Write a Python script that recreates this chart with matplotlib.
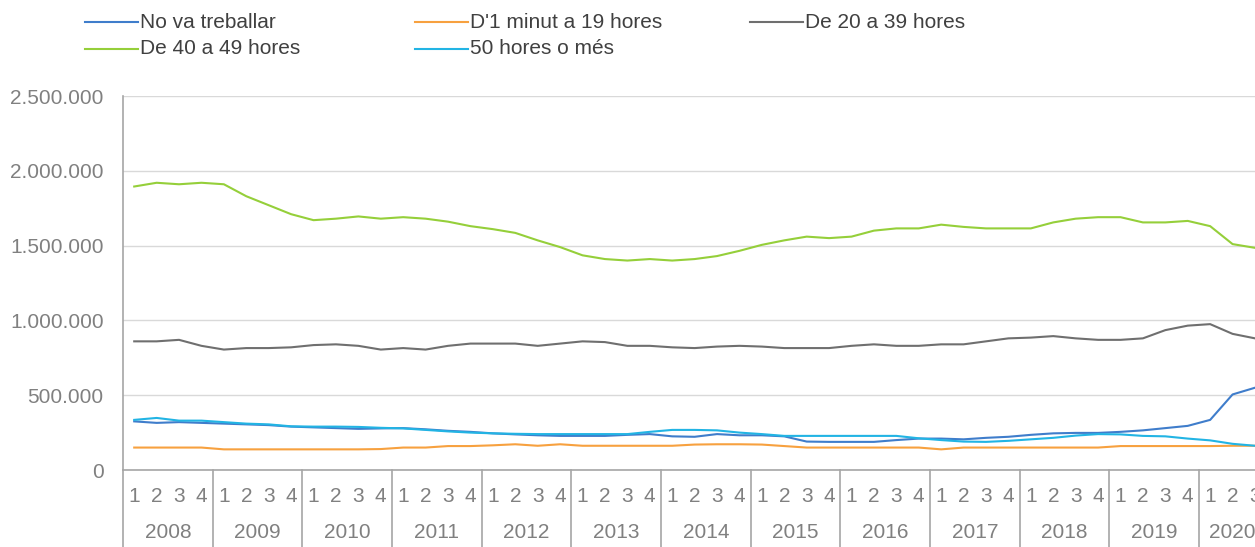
import numpy as np
import matplotlib.pyplot as plt
from matplotlib.ticker import FuncFormatter
import matplotlib.transforms as mtransforms

plt.rcParams['font.family'] = ['Liberation Sans', 'DejaVu Sans']

# dades trimestrals 2008T1 - 2020T3 (milers de persones)
years = ['2008', '2009', '2010', '2011', '2012', '2013', '2014',
         '2015', '2016', '2017', '2018', '2019', '2020']
quarters = ['1', '2', '3', '4']

no_treballar = [325, 315, 320, 315, 310, 305, 300, 290, 285, 280, 275, 278,
                280, 272, 262, 255, 245, 238, 232, 228, 228, 228, 235, 240,
                225, 222, 240, 232, 232, 225, 190, 188, 188, 188, 200, 210,
                210, 205, 215, 222, 235, 245, 248, 248, 255, 265, 280, 295,
                335, 505, 550]
de_1_a_19 = [150, 150, 150, 150, 138, 138, 138, 138, 138, 138, 138, 140,
             150, 150, 160, 160, 165, 172, 162, 172, 162, 162, 162, 162,
             162, 170, 172, 172, 170, 160, 150, 150, 150, 150, 150, 150,
             138, 150, 150, 150, 150, 150, 150, 150, 160, 160, 160, 160,
             160, 162, 162]
de_20_a_39 = [860, 860, 870, 830, 805, 815, 815, 820, 835, 840, 830, 805,
              815, 805, 830, 845, 845, 845, 830, 845, 860, 855, 830, 830,
              820, 815, 825, 830, 825, 815, 815, 815, 830, 840, 830, 830,
              840, 840, 860, 880, 885, 895, 880, 870, 870, 880, 935, 965,
              975, 910, 880]
de_40_a_49 = [1895, 1920, 1910, 1920, 1910, 1830, 1770, 1710, 1670, 1680, 1695, 1680,
              1690, 1680, 1660, 1630, 1610, 1585, 1535, 1490, 1435, 1410, 1400, 1410,
              1400, 1410, 1430, 1465, 1505, 1535, 1560, 1550, 1560, 1600, 1615, 1615,
              1640, 1625, 1615, 1615, 1615, 1655, 1680, 1690, 1690, 1655, 1655, 1665,
              1630, 1510, 1485]
mes_de_50 = [335, 348, 330, 330, 320, 310, 305, 292, 290, 290, 288, 282,
             278, 268, 258, 250, 245, 242, 240, 240, 240, 240, 240, 255,
             268, 268, 265, 250, 240, 228, 228, 228, 228, 228, 228, 212,
             200, 190, 188, 195, 205, 215, 230, 240, 238, 228, 225, 210,
             198, 175, 162]

series = [
    ("No va treballar", no_treballar, '#3F7DCB'),
    ("D'1 minut a 19 hores", de_1_a_19, '#F7A13F'),
    ("De 20 a 39 hores", de_20_a_39, '#6F6F6F'),
    ("De 40 a 49 hores", de_40_a_49, '#95CF3A'),
    ("50 hores o més", mes_de_50, '#22B4E4'),
]

fig = plt.figure(figsize=(12.55, 5.47), dpi=100)
ax = fig.add_axes([123 / 1255, 1 - 470 / 547, 1 - 123 / 1255, (470 - 96) / 547])

n = len(no_treballar)
x = np.arange(n)
for name, vals, color in series:
    ax.plot(x, np.array(vals) * 1000, color=color, lw=1.5, label=name)

ax.set_ylim(0, 2500000)
ax.set_xlim(-0.5, 50.0)
ax.set_yticks(np.arange(0, 2500001, 500000))
ax.yaxis.set_major_formatter(FuncFormatter(lambda v, p: f'{int(v):,}'.replace(',', '.')))
ax.grid(axis='y', color='#D9D9D9', lw=1)
ax.set_axisbelow(True)

for s in ['top', 'right']:
    ax.spines[s].set_visible(False)
for s in ['left', 'bottom']:
    ax.spines[s].set_color('#A6A6A6')
    ax.spines[s].set_linewidth(1.2)

ax.set_xticks(x)
ax.set_xticklabels([quarters[i % 4] for i in x])
ax.tick_params(axis='x', length=0, pad=12, labelsize=15, labelcolor='#808080')
ax.tick_params(axis='y', length=0, pad=14, labelsize=15, labelcolor='#808080')

# separadors d'anys i etiquetes d'any (l'últim any només té 3 trimestres)
trans = mtransforms.blended_transform_factory(ax.transData, ax.transAxes)
for k, yr in enumerate(years):
    start = 4 * k
    end = min(4 * k + 4, n)
    ax.plot([start - 0.5, start - 0.5], [0, -0.3], transform=trans,
            color='#A6A6A6', lw=1.2, clip_on=False)
    ax.text((start + end - 1) / 2, -0.168, yr, transform=trans, ha='center', va='center',
            fontsize=15, color='#808080', clip_on=False)

# llegenda (ordre per files)
leg_pos = [(85, 22), (415, 22), (750, 22), (85, 49), (415, 49)]
for (name, vals, color), (lx, ly) in zip(series, leg_pos):
    fy = 1 - ly / 547
    fig.add_artist(plt.Line2D([lx / 1255, (lx + 53) / 1255], [fy, fy],
                              color=color, lw=1.5, transform=fig.transFigure))
    fig.text((lx + 55) / 1255, fy, name, ha='left', va='center',
             fontsize=15, color='#404040')

fig.savefig('out.png', dpi=100)
